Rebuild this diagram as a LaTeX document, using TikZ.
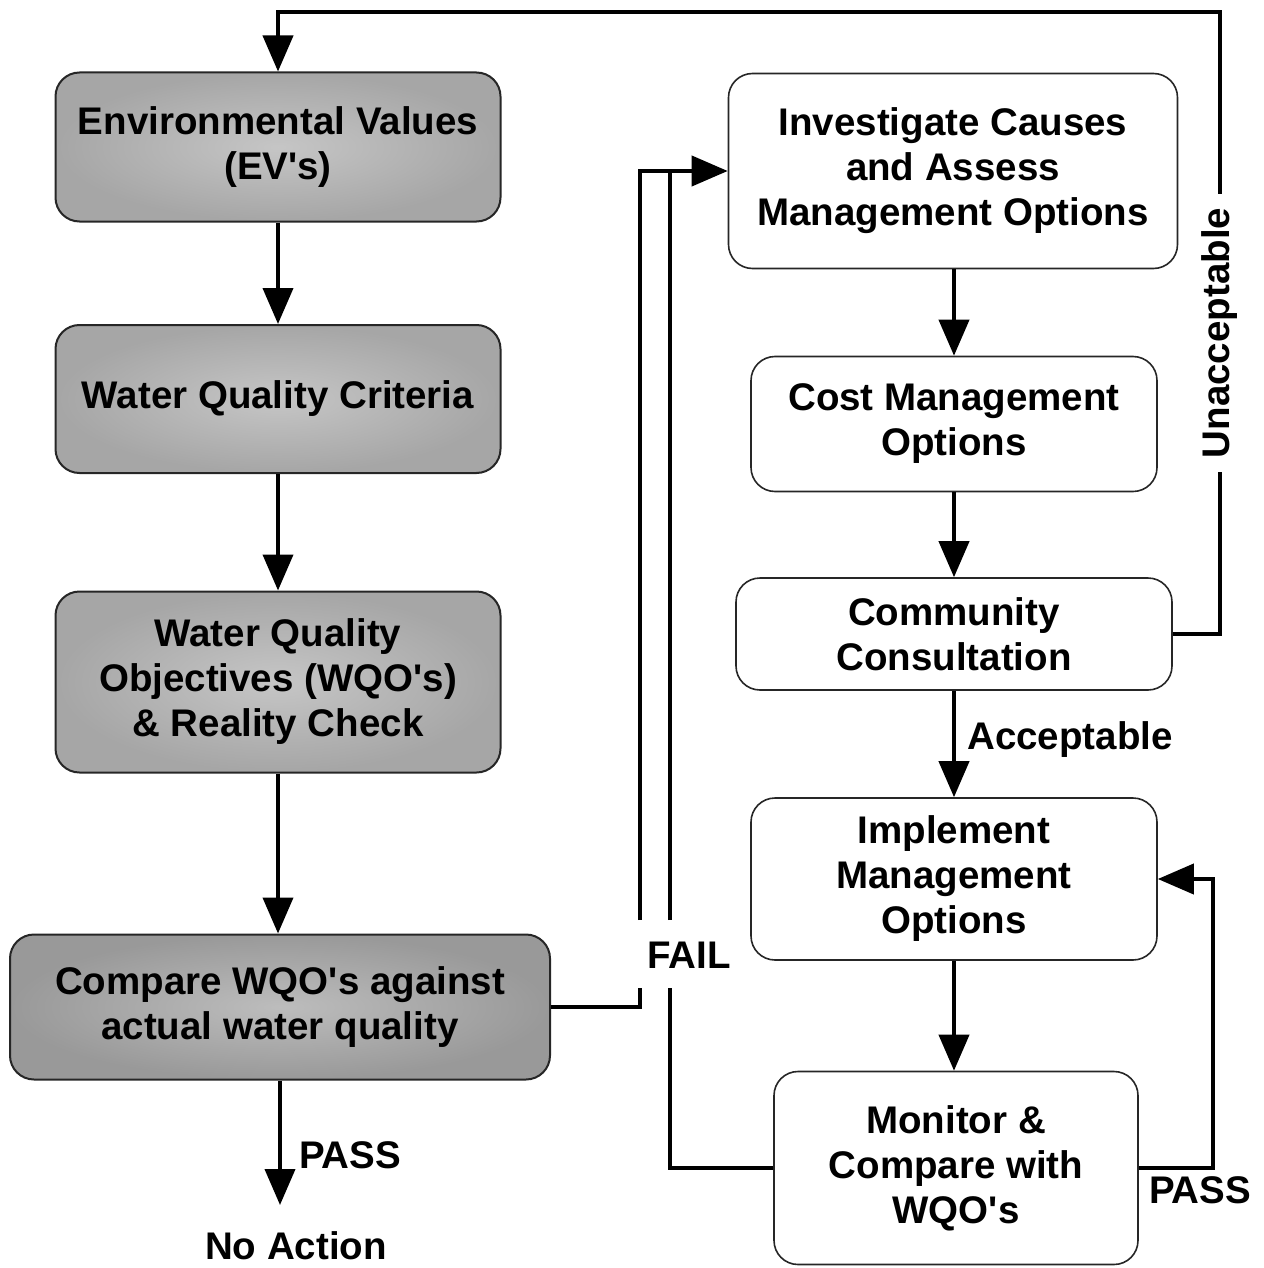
\documentclass[tikz,border=0pt]{standalone}
\usepackage{fontspec}
\setmainfont{Liberation Sans}
\usetikzlibrary{arrows.meta}
\newcommand{\ap}{\textquotesingle}
\begin{document}
\begin{tikzpicture}[x=1pt,y=-1pt,
  box/.style={draw=black!85, line width=1.6pt, rounded corners=24pt, align=center,
    font=\fontsize{38.5}{45}\selectfont\bfseries, inner sep=0pt},
  gbox/.style={box, line width=2pt, shading=radial, inner color=gray!45, outer color=gray!70},
  dbox/.style={box, line width=2pt, shading=radial, inner color=gray!52, outer color=gray!80},
  wbox/.style={box, fill=white},
  conn/.style={line width=4pt, -{Triangle[length=36pt,width=30pt]}},
  plain/.style={line width=4pt},
  lbl/.style={font=\fontsize{38.5}{45}\selectfont\bfseries, inner sep=0pt}]
\useasboundingbox (0,0) rectangle (1263,1268);
% left column
\node[gbox, minimum width=445pt, minimum height=149pt] (ev) at (278,147) {Environmental Values\\(EV\ap s)};
\node[gbox, minimum width=445pt, minimum height=148pt] (wqc) at (278,399) {Water Quality Criteria};
\node[gbox, minimum width=445pt, minimum height=181pt] (wqo) at (278,682) {Water Quality\\Objectives (WQO\ap s)\\\& Reality Check};
\node[dbox, minimum width=540pt, minimum height=145pt] (cmp) at (280,1007) {Compare WQO\ap s against\\actual water quality};
\node[lbl] (noact) at (296,1246) {No Action};
% right column
\node[wbox, minimum width=449pt, minimum height=195pt] (inv) at (953,171) {Investigate Causes\\and Assess\\Management Options};
\node[wbox, minimum width=406pt, minimum height=135pt] (cost) at (954,424) {Cost Management\\Options};
\node[wbox, minimum width=436pt, minimum height=112pt] (com) at (954,634) {Community\\Consultation};
\node[wbox, minimum width=406pt, minimum height=162pt] (imp) at (954,879) {Implement\\Management\\Options};
\node[wbox, minimum width=364pt, minimum height=193pt] (mon) at (956,1168) {Monitor \&\\Compare with\\WQO\ap s};
% labels
\node[lbl, rotate=90, inner sep=14pt] (unacc) at (1220,333) {Unacceptable};
\node[lbl] (fail) at (689,955) {FAIL};
\node[lbl] (pass1) at (350,1155) {PASS};
\node[lbl] (pass2) at (1200,1190) {PASS};
\node[lbl] (acc) at (1070,740) {Acceptable};
% coordinates
\coordinate (top) at (1220,12);
\coordinate (fl1) at (640,988);
\coordinate (fl2) at (640,920);
\coordinate (fr1) at (670,988);
\coordinate (fr2) at (670,920);
\coordinate (fin2) at (670,172);
\coordinate (pend) at (280,1205);
\coordinate (pr) at (1213,1168);
% left column arrows
\draw[conn] (ev.south) -- (ev.south |- wqc.north);
\draw[conn] (wqc.south) -- (wqc.south |- wqo.north);
\draw[conn] (wqo.south) -- (wqo.south |- cmp.north);
\draw[conn] (cmp.south) -- (pend);
% right column arrows
\draw[conn] (inv.south -| cost.north) -- (cost.north);
\draw[conn] (cost.south) -- (com.north);
\draw[conn] (com.south) -- (imp.north);
\draw[conn] (imp.south) -- (imp.south |- mon.north);
% unacceptable loop
\draw[plain] (com.east) -| (unacc.west);
\draw[conn] (unacc.east) |- (ev.north |- top) -- (ev.north);
% fail loops
\draw[plain] (cmp.east) -| (fl1);
\draw[conn] (fl2) |- (inv.west);
\draw[plain] (mon.west) -| (fr1);
\draw[plain] (fr2) -- (fin2);
% pass loop
\draw[conn] (mon.east) -| (pr) |- (imp.east);
\end{tikzpicture}
\end{document}
